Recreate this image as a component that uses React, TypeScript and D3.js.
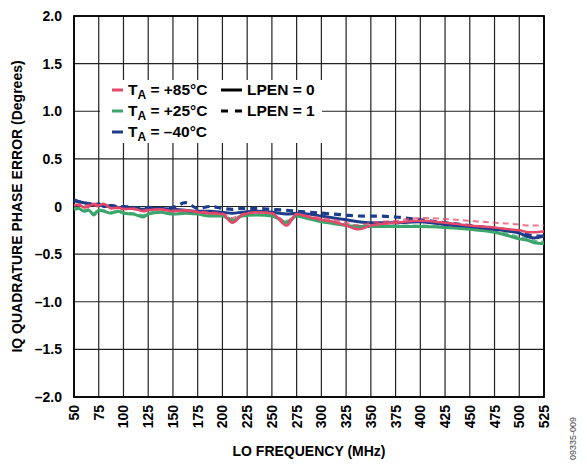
import React from "react";
import * as d3 from "d3";

const W = 587;
const H = 464;
const M = { left: 74, right: 544, top: 16, bottom: 397 };

const xTicks = [50, 75, 100, 125, 150, 175, 200, 225, 250, 275, 300, 325, 350, 375, 400, 425, 450, 475, 500, 525];
const yTicks = [2.0, 1.5, 1.0, 0.5, 0, -0.5, -1.0, -1.5, -2.0];
const yTickLabels = ["2.0", "1.5", "1.0", "0.5", "0", "–0.5", "–1.0", "–1.5", "–2.0"];

const freqs = [50, 55, 60, 65, 70, 75, 80, 87.5, 95, 100, 110, 120, 125, 137.5, 150, 162.5, 175, 187.5, 200, 210, 220, 235, 250, 265, 275, 287.5, 300, 312.5, 325, 337.5, 350, 375, 400, 425, 450, 475, 490, 500, 510, 515, 525];

const red0 = [0.01, 0.02, -0.01, 0.0, 0.03, 0.01, 0.03, -0.02, -0.01, -0.03, -0.02, -0.05, -0.04, -0.03, -0.05, -0.04, -0.06, -0.07, -0.08, -0.17, -0.09, -0.06, -0.07, -0.2, -0.08, -0.11, -0.14, -0.16, -0.2, -0.24, -0.2, -0.17, -0.15, -0.17, -0.2, -0.22, -0.24, -0.25, -0.27, -0.27, -0.26];
const red1 = [0.02, 0.01, 0.0, 0.02, 0.01, 0.0, 0.02, -0.01, -0.02, -0.02, -0.03, -0.04, -0.03, -0.04, -0.04, -0.05, -0.05, -0.06, -0.07, -0.12, -0.08, -0.06, -0.07, -0.16, -0.08, -0.1, -0.12, -0.14, -0.17, -0.2, -0.17, -0.15, -0.12, -0.13, -0.15, -0.17, -0.18, -0.19, -0.2, -0.2, -0.2];
const green0 = [-0.03, -0.02, -0.05, -0.04, -0.09, -0.04, -0.05, -0.07, -0.05, -0.07, -0.08, -0.11, -0.08, -0.06, -0.08, -0.07, -0.08, -0.1, -0.1, -0.15, -0.1, -0.09, -0.1, -0.17, -0.1, -0.13, -0.16, -0.18, -0.2, -0.21, -0.21, -0.21, -0.21, -0.22, -0.24, -0.27, -0.31, -0.34, -0.36, -0.38, -0.39];
const green1 = [-0.02, -0.01, -0.04, -0.03, -0.07, -0.03, -0.04, -0.06, -0.04, -0.06, -0.07, -0.09, -0.07, -0.05, -0.07, -0.06, -0.07, -0.09, -0.09, -0.13, -0.09, -0.08, -0.09, -0.15, -0.09, -0.12, -0.15, -0.17, -0.19, -0.2, -0.2, -0.2, -0.2, -0.21, -0.23, -0.26, -0.29, -0.32, -0.34, -0.36, -0.37];
const blue0 = [0.06, 0.05, 0.04, 0.03, 0.02, 0.03, 0.0, 0.01, -0.01, -0.01, -0.02, -0.03, -0.02, -0.02, -0.03, -0.04, -0.05, -0.05, -0.06, -0.07, -0.06, -0.05, -0.06, -0.08, -0.07, -0.08, -0.1, -0.12, -0.14, -0.16, -0.17, -0.17, -0.16, -0.19, -0.21, -0.24, -0.26, -0.28, -0.32, -0.33, -0.31];
const blue1 = [0.07, 0.05, 0.04, 0.03, 0.02, 0.02, 0.01, 0.01, 0.0, 0.0, -0.01, -0.02, -0.01, -0.02, -0.01, 0.04, -0.02, 0.0, -0.02, -0.03, -0.02, -0.02, -0.03, -0.04, -0.05, -0.06, -0.07, -0.08, -0.09, -0.1, -0.1, -0.11, -0.14, -0.17, -0.2, -0.23, -0.25, -0.27, -0.3, -0.31, -0.31];

const RED = "#e4486a";
const GREEN = "#3ba56c";
const BLUE = "#1d3c8a";

const FONT = "'Liberation Sans', Arial, Helvetica, sans-serif";

export default function App() {
  const x = d3.scaleLinear().domain([50, 525]).range([M.left, M.right]);
  const y = d3.scaleLinear().domain([-2, 2]).range([M.bottom, M.top]);
  const line = (vals: number[]) =>
    d3
      .line<number>()
      .x((_, i) => x(freqs[i]))
      .y((v) => y(v))
      .curve(d3.curveMonotoneX)(vals) || "";

  const series = [
    { vals: green1, color: GREEN, dash: "6,4", w: 2, op: 0.8 },
    { vals: green0, color: GREEN, dash: "", w: 3, op: 1 },
    { vals: blue0, color: BLUE, dash: "", w: 3, op: 1 },
    { vals: blue1, color: BLUE, dash: "7,5", w: 3.2, op: 1 },
    { vals: red0, color: RED, dash: "", w: 2.5, op: 1 },
    { vals: red1, color: RED, dash: "6,4", w: 2, op: 0.75 },
  ];

  const lx = 100, ly = 80, lw = 222, lh = 63;
  const rows = [
    { label: "+85°C", color: RED, y: 95 },
    { label: "+25°C", color: GREEN, y: 116 },
    { label: "–40°C", color: BLUE, y: 137 },
  ];

  return (
    <svg width={W} height={H} style={{ position: "absolute", left: 0, top: 0 }} fontFamily={FONT}>
      <rect x={0} y={0} width={W} height={H} fill="#fff" />
      {xTicks.map((t) => (
        <line key={"gx" + t} x1={x(t)} x2={x(t)} y1={M.top} y2={M.bottom} stroke="#222" strokeWidth={1.2} />
      ))}
      {yTicks.map((t) => (
        <line key={"gy" + t} x1={M.left} x2={M.right} y1={y(t)} y2={y(t)} stroke="#222" strokeWidth={1.2} />
      ))}
      <rect x={lx} y={ly} width={lw} height={lh} fill="#fff" />
      <rect x={M.left} y={M.top} width={M.right - M.left} height={M.bottom - M.top} fill="none" stroke="#000" strokeWidth={1.8} />
      {series.map((s, i) => (
        <path key={i} d={line(s.vals)} fill="none" stroke={s.color} strokeWidth={s.w} strokeDasharray={s.dash} opacity={s.op} strokeLinejoin="round" />
      ))}
      {rows.map((r) => (
        <g key={r.label}>
          <line x1={112} x2={123} y1={r.y - 5} y2={r.y - 5} stroke={r.color} strokeWidth={3} />
          <text x={128} y={r.y} fontSize={15.5} fontWeight="bold" fill="#000">
            T<tspan fontSize={12} dy={4}>A</tspan>
            <tspan dy={-4}>{" = " + r.label}</tspan>
          </text>
        </g>
      ))}
      <line x1={221} x2={242} y1={90} y2={90} stroke="#000" strokeWidth={3} />
      <text x={247} y={95} fontSize={15.5} fontWeight="bold">LPEN = 0</text>
      <line x1={221} x2={242} y1={111} y2={111} stroke="#000" strokeWidth={3} strokeDasharray="7,7" />
      <text x={247} y={116} fontSize={15.5} fontWeight="bold">LPEN = 1</text>

      {yTicks.map((t, i) => (
        <text key={"yl" + t} x={62} y={y(t) + 5} textAnchor="end" fontSize={14} fontWeight="bold">
          {yTickLabels[i]}
        </text>
      ))}
      {xTicks.map((t) => (
        <text key={"xl" + t} transform={`translate(${x(t) + 5},${M.bottom + 8}) rotate(-90)`} textAnchor="end" fontSize={14} fontWeight="bold">
          {t}
        </text>
      ))}
      <text transform={`translate(22,${(M.top + M.bottom) / 2}) rotate(-90)`} textAnchor="middle" fontSize={14} fontWeight="bold">
        IQ QUADRATURE PHASE ERROR (Degrees)
      </text>
      <text x={(M.left + M.right) / 2} y={456} textAnchor="middle" fontSize={14} fontWeight="bold">
        LO FREQUENCY (MHz)
      </text>
      <text transform={`translate(576,460) rotate(-90)`} fontSize={9} fill="#444">
        09335-009
      </text>
    </svg>
  );
}
